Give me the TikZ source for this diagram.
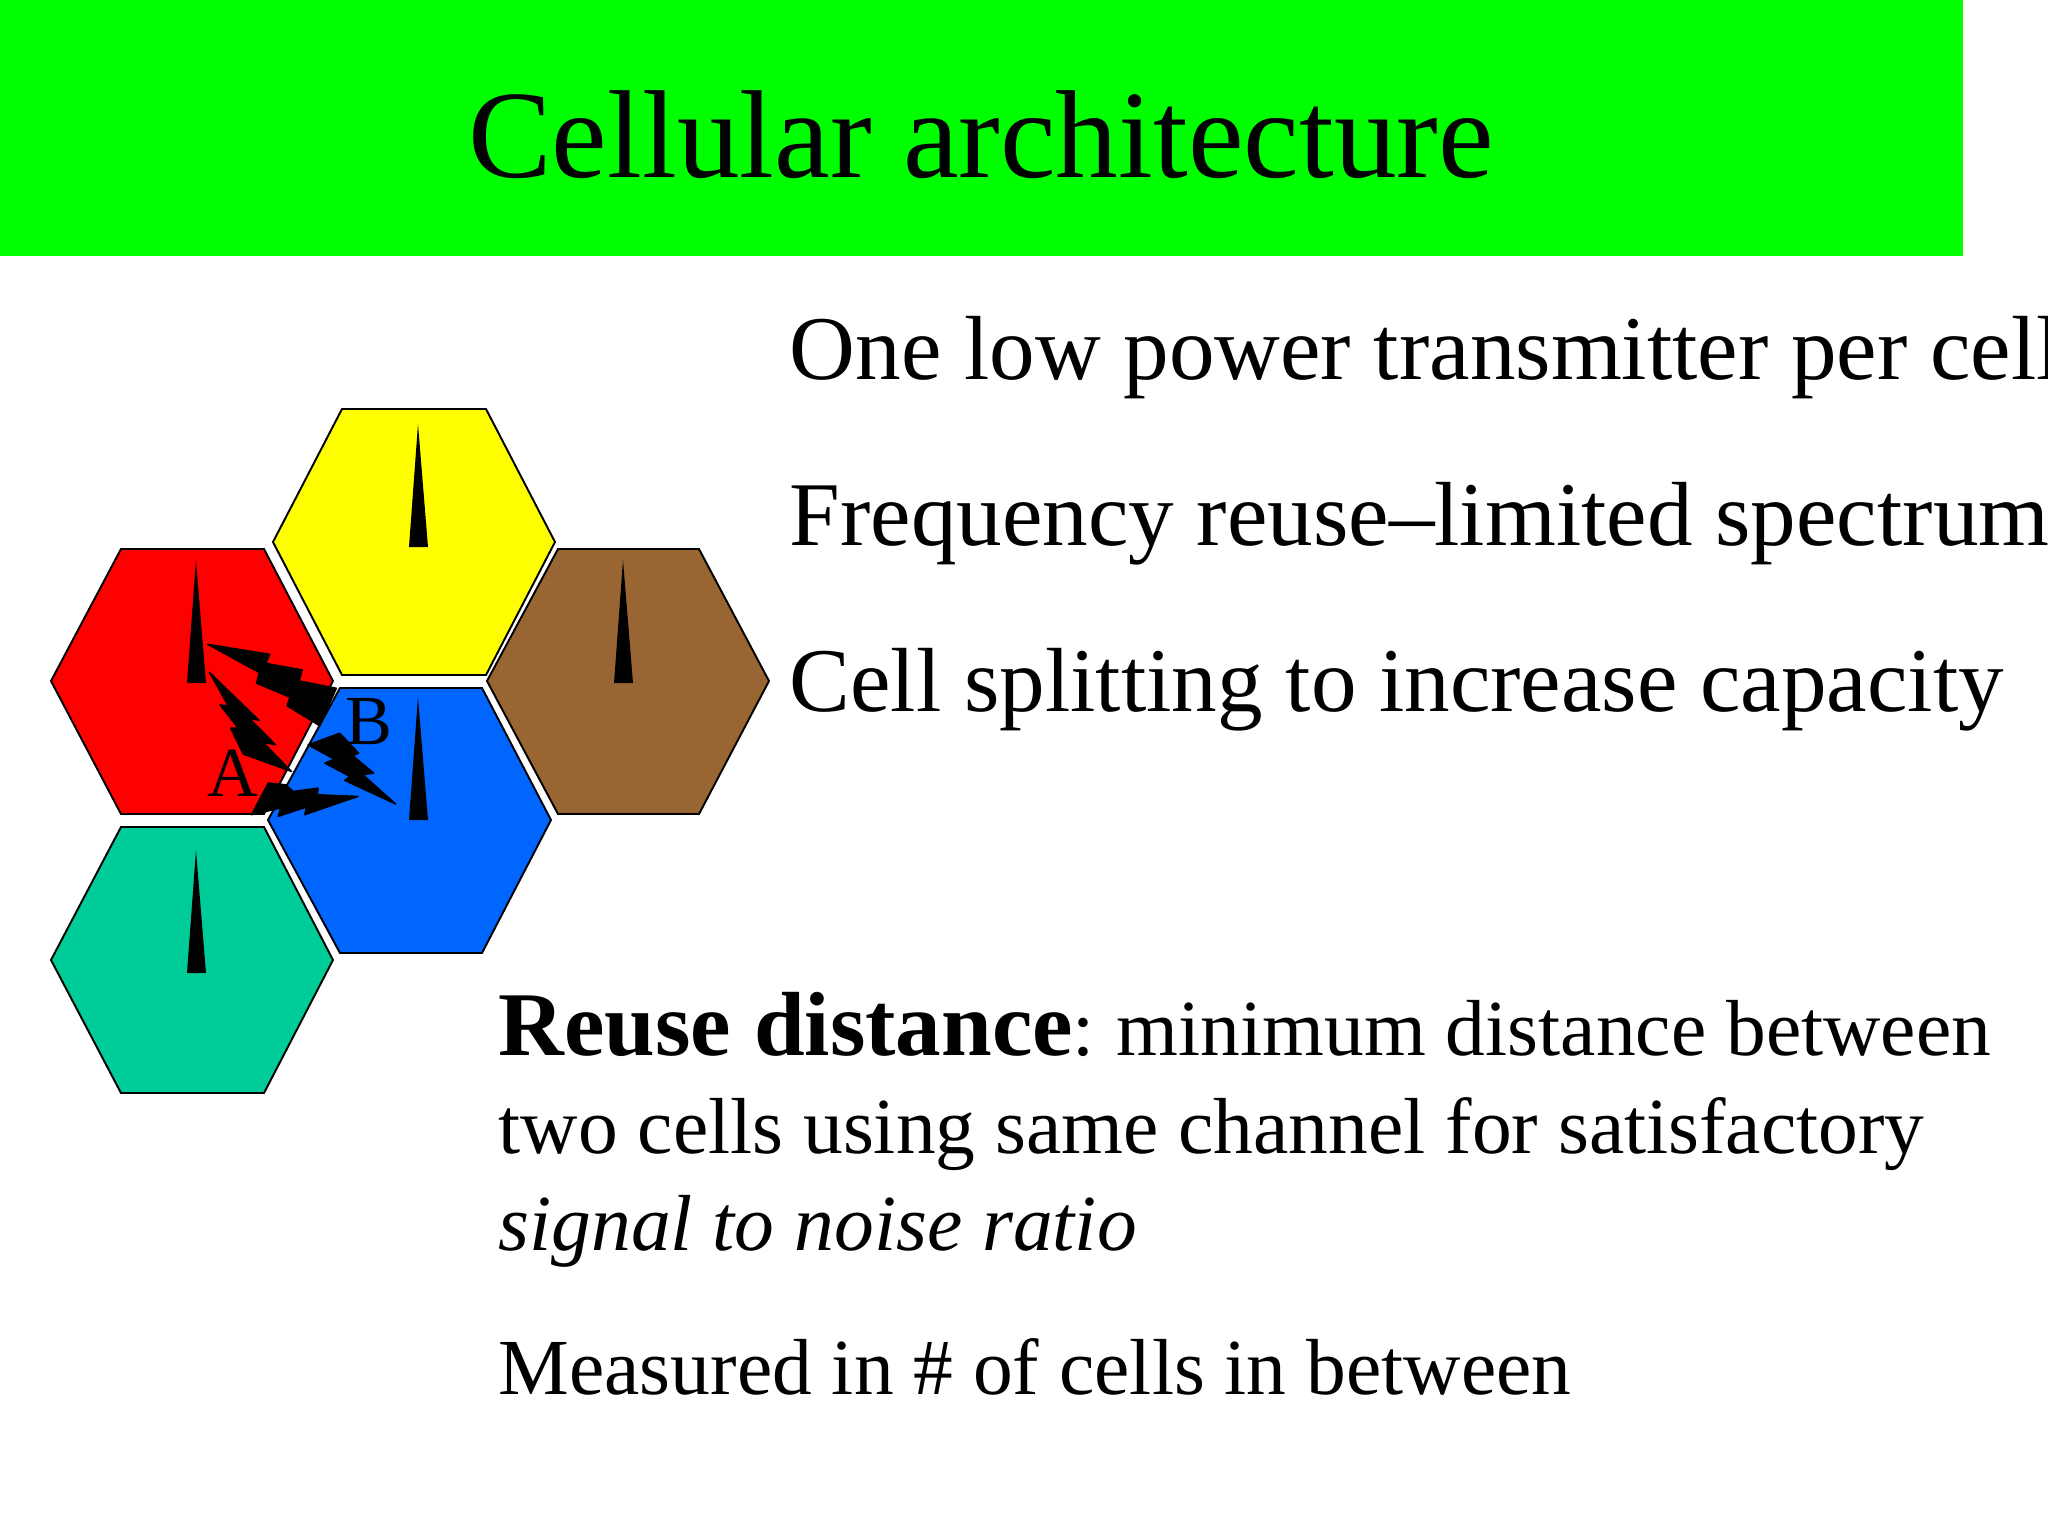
\documentclass[tikz,border=0pt]{standalone}
\usepackage{fontspec}
\setmainfont{Liberation Serif}
\usepackage[svgnames]{xcolor}
\definecolor{titlegreen}{rgb}{0,1,0}
\definecolor{cellyellow}{rgb}{1,1,0}
\definecolor{cellred}{rgb}{1,0,0}
\definecolor{cellblue}{rgb}{0,0.4,1}
\definecolor{cellbrown}{rgb}{0.6,0.4,0.2}
\definecolor{cellteal}{rgb}{0,0.8,0.6}
\tikzset{
  hexcell/.style={draw=black, line width=0.55pt},
  tower/.style={fill=black},
  bolt/.style={fill=black, draw=black, line width=0.4pt, line join=round},
  titletext/.style={anchor=base, inner sep=0pt, font=\fontsize{35.6}{40}\selectfont},
  bullettext/.style={anchor=base west, inner sep=0pt, font=\fontsize{25.9}{30}\selectfont},
  bodytext/.style={anchor=base west, inner sep=0pt, font=\fontsize{22.6}{26}\selectfont},
  celllabel/.style={anchor=base, inner sep=0pt, font=\fontsize{20}{24}\selectfont}
}
\begin{document}
\begin{tikzpicture}[x=0.01cm, y=-0.01cm]
  \useasboundingbox (0,0) rectangle (2048,1536);
  \clip (0,0) rectangle (2048,1536);
  \fill[white] (0,0) rectangle (2048,1536);
  \fill[titlegreen] (0,0) rectangle (1963,256);
  \node[titletext] (title) at (981,177) {Cellular architecture};
  % cells
  \draw[hexcell, fill=cellyellow] (273,542) -- (342,409) -- (486,409) -- (555,542) -- (486,675) -- (342,675) -- cycle;
  \draw[hexcell, fill=cellred] (51,681) -- (121,549) -- (264,549) -- (333,681) -- (264,814) -- (121,814) -- cycle;
  \draw[hexcell, fill=cellbrown] (487,681) -- (558,549) -- (699,549) -- (769,681) -- (699,814) -- (558,814) -- cycle;
  \draw[hexcell, fill=cellblue] (268,820) -- (340,688) -- (482,688) -- (551,820) -- (482,953) -- (340,953) -- cycle;
  \draw[hexcell, fill=cellteal] (51,960) -- (121,827) -- (264,827) -- (333,960) -- (264,1093) -- (121,1093) -- cycle;
  % towers
  \fill[tower] (418,424) -- (428,547) -- (409,547) -- cycle;
  \fill[tower] (196,560) -- (206,683) -- (187,683) -- cycle;
  \fill[tower] (623,560) -- (633,683) -- (614,683) -- cycle;
  \fill[tower] (418,697) -- (428,820) -- (409,820) -- cycle;
  \fill[tower] (196,850) -- (206,973) -- (187,973) -- cycle;
  % bolts
  \begin{scope}[shift={(180,620)}, x=0.00333cm, y=-0.00333cm]
    \fill[bolt] (83,73) -- (270,103) -- (258,130) -- (367,150) -- (358,183) -- (470,205) -- (420,318) -- (322,258) -- (330,232) -- (230,190) -- (238,158) -- cycle;
    \fill[bolt] (88,157) -- (238,302) -- (208,295) -- (287,375) -- (250,368) -- (335,455) -- (190,403) -- (152,325) -- (175,325) -- (120,255) -- (145,258) -- cycle;
    \fill[bolt] (648,553) -- (495,482) -- (510,470) -- (435,430) -- (463,418) -- (385,375) -- (480,340) -- (537,400) -- (520,408) -- (582,460) -- (550,465) -- cycle;
    \fill[bolt] (535,530) -- (375,585) -- (380,562) -- (295,590) -- (303,565) -- (215,585) -- (265,490) -- (318,495) -- (340,515) -- (415,505) -- (413,525) -- cycle;
  \end{scope}
  \node[celllabel] (labela) at (233,796) {A};
  \node[celllabel] (labelb) at (369,744) {B};
  % text
  \node[bullettext] (lineone) at (789,379) {One low power transmitter per cell};
  \node[bullettext] (linetwo) at (789,545) {Frequency reuse--limited spectrum};
  \node[bullettext] (linethree) at (789,711) {Cell splitting to increase capacity};
  \node[bodytext] (reuseone) at (498,1055) {{\fontsize{25.9}{30}\selectfont\bfseries Reuse distance}:\kern-1.3pt{} minimum distance between};
  \node[bodytext] (reusetwo) at (498,1153) {two cells using same channel for satisfactory};
  \node[bodytext] (reusethree) at (498,1250) {\itshape signal to noise ratio};
  \node[bodytext] (measured) at (498,1394) {Measured in \# of cells in between};
\end{tikzpicture}
\end{document}
